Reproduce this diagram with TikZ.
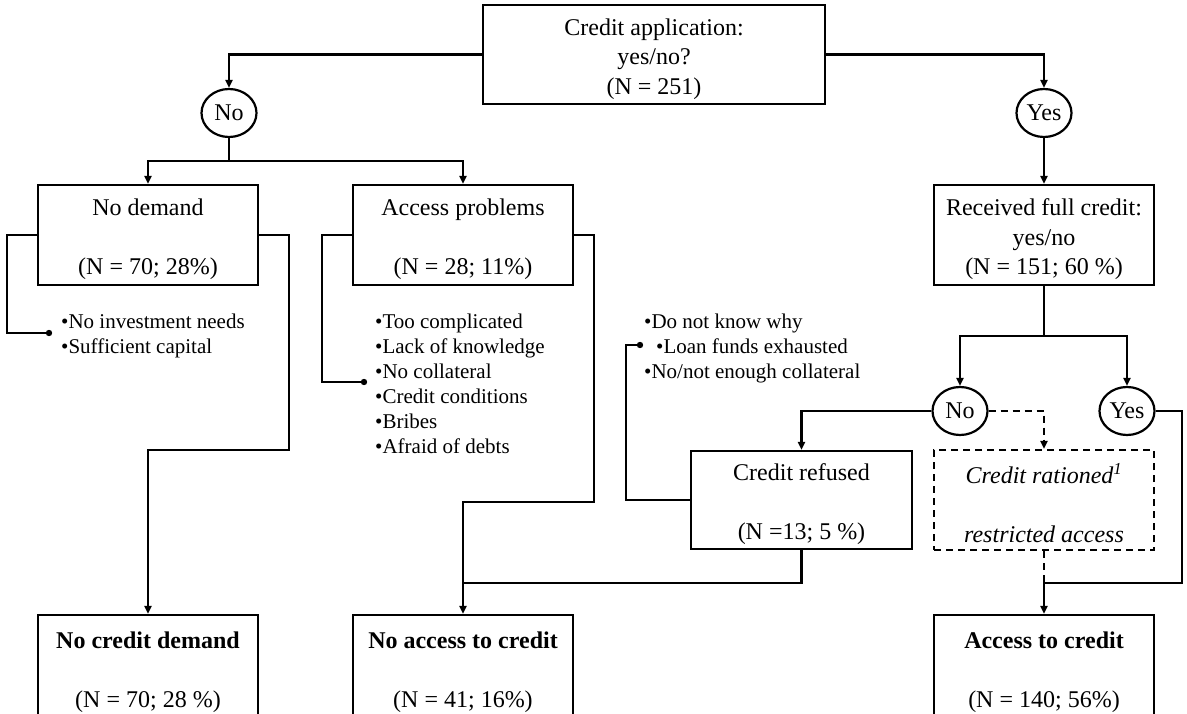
\documentclass[tikz,border=0pt]{standalone}
\usepackage{fontspec}
\setmainfont{Liberation Serif}
\usetikzlibrary{arrows.meta,shapes.geometric}
\newcommand{\tsx}{\rule{0pt}{26pt}}
\begin{document}
\begin{tikzpicture}[x=1pt,y=-1pt,
  box/.style={draw, line width=2.2pt, rectangle, minimum width=220pt, minimum height=100pt, inner sep=0pt, align=center, font=\fontsize{24}{29.5}\selectfont},
  dbox/.style={box, dash pattern=on 7pt off 5pt, font=\fontsize{24}{29.5}\selectfont\itshape},
  circ/.style={draw, ellipse, line width=2.2pt, minimum width=55pt, minimum height=48pt, inner sep=0pt, font=\fontsize{24}{29}\selectfont},
  conn/.style={line width=2.2pt},
  dconn/.style={line width=2.2pt, dash pattern=on 7pt off 5pt},
  arr/.style={-{Triangle[length=8pt,width=7pt]}},
  blist/.style={anchor=north west, inner sep=0pt, align=left, font=\fontsize{21}{25}\selectfont},
  dotfill/.style={fill=black}
]
\useasboundingbox (0,0) rectangle (1187,714);

% nodes
\node[box, minimum width=342pt, minimum height=99pt] (top) at (654,54.5) {\tsx Credit application:\\yes/no?\\(N = 251)};
\node[circ] (no1) at (229,113) {No};
\node[circ] (yes1) at (1044,113) {Yes};
\node[box] (nodemand) at (148,235) {\tsx No demand\\[29.5pt](N = 70; 28\%)};
\node[box] (access) at (463,235) {\tsx Access problems\\[29.5pt](N = 28; 11\%)};
\node[box] (received) at (1044,235) {\tsx Received full credit:\\yes/no\\(N = 151; 60 \%)};
\node[circ] (no2) at (960,411) {No};
\node[circ] (yes2) at (1127,411) {Yes};
\node[box, minimum width=221pt, minimum height=98pt] (refused) at (801.5,500) {\tsx Credit refused\\[29.5pt](N =13; 5 \%)};
\node[dbox] (rationed) at (1044,500) {\tsx Credit rationed\textsuperscript{1}\\[29.5pt]restricted access};
\node[box, minimum height=106pt] (ncd) at (148,668) {\textbf{\tsx No credit demand}\\[29.5pt](N = 70; 28 \%)};
\node[box, minimum height=106pt] (nac) at (463,668) {\textbf{\tsx No access to credit}\\[29.5pt](N = 41; 16\%)};
\node[box, minimum height=106pt] (ac) at (1044,668) {\textbf{\tsx Access to credit}\\[29.5pt](N = 140; 56\%)};

\node[blist] (l1) at (61,314) {•No investment needs\\•Sufficient capital};
\node[blist] (l2) at (375,314) {•Too complicated\\•Lack of knowledge\\•No collateral\\•Credit conditions\\•Bribes\\•Afraid of debts};
\node[blist] (l3) at (644,314) {•Do not know why\\\hspace{12pt}•Loan funds exhausted\\•No/not enough collateral};

\coordinate (dot1) at (49,333);
\coordinate (dot2) at (364,382);
\coordinate (dot3) at (640,345);
\coordinate (j1) at (229,161);
\coordinate (j2) at (1044,336);
\coordinate (m1) at (463,583);
\coordinate (m2) at (1044,583);

% connectors
\draw[conn,arr] (top.west) -| (no1.north);
\draw[conn,arr] (top.east) -| (yes1.north);
\draw[conn] (no1.south) -- (j1);
\draw[conn,arr] (j1) -| (nodemand.north);
\draw[conn,arr] (j1) -| (access.north);
\draw[conn,arr] (yes1.south) -- (received.north);
\draw[conn] (nodemand.west) -- (7,235) |- (dot1);
\draw[conn,arr] (nodemand.east) -- (289,235) -- (289,450) -| (ncd.north);
\draw[conn] (access.west) -- (322,235) |- (dot2);
\draw[conn,arr] (access.east) -- (594,235) -- (594,502) -| (nac.north);
\draw[conn] (received.south) -- (j2);
\draw[conn,arr] (j2) -| (no2.north);
\draw[conn,arr] (j2) -| (yes2.north);
\draw[conn,arr] (no2.west) -| (refused.north);
\draw[dconn,arr] (no2.east) -| (rationed.north);
\draw[conn] (refused.west) -- (626,500) |- (dot3);
\draw[conn] (refused.south) |- (m1);
\draw[dconn] (rationed.south) -- (m2);
\draw[conn,arr] (yes2.east) -- (1182,411) |- (m2) -- (ac.north);

\fill[dotfill] (dot1) circle (3.2pt);
\fill[dotfill] (dot2) circle (3.2pt);
\fill[dotfill] (dot3) circle (3.2pt);
\end{tikzpicture}
\end{document}
